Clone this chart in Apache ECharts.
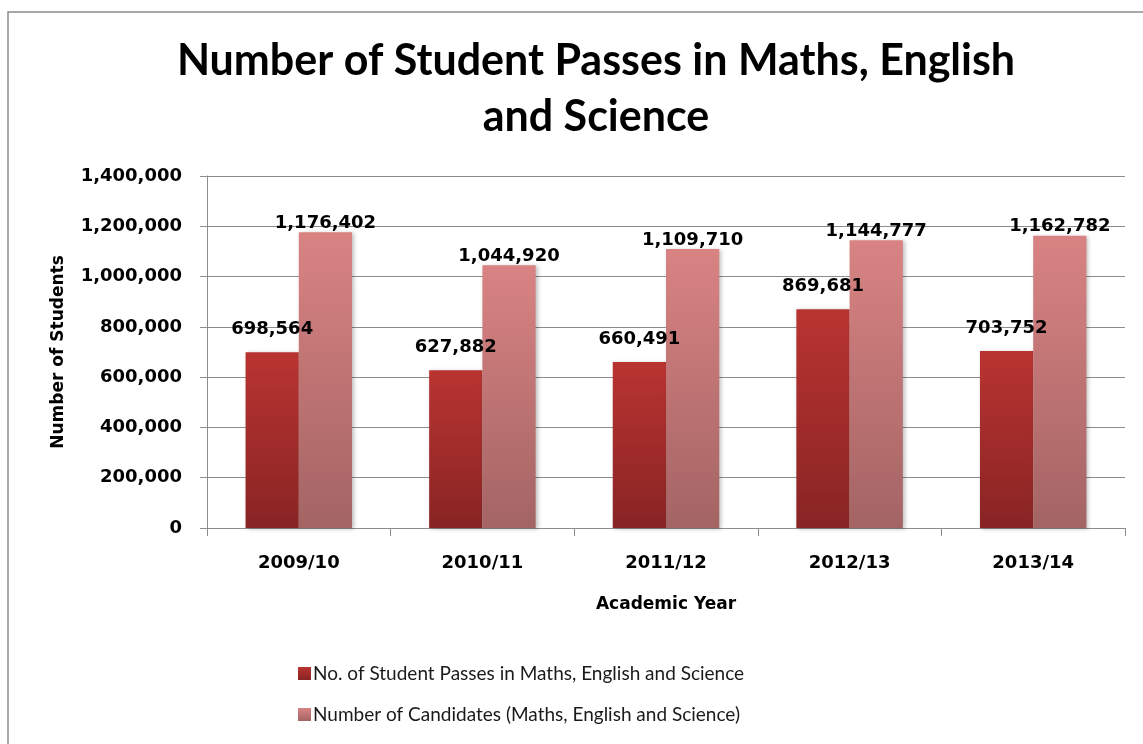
<!DOCTYPE html>
<html>
<head>
<meta charset="utf-8">
<title>Number of Student Passes</title>
<script src="https://cdn.jsdelivr.net/npm/echarts@6/dist/echarts.min.js"></script>
<style>
  html, body { margin: 0; padding: 0; background: #fff; }
  #chart { width: 1143px; height: 744px; }
</style>
</head>
<body>
<div id="chart"></div>
<script>
// chart data
const years = ['2009/10', '2010/11', '2011/12', '2012/13', '2013/14']
const passes = [698564, 627882, 660491, 869681, 703752]
const candidates = [1176402, 1044920, 1109710, 1144777, 1162782]
const yMin = 0
const yMax = 1400000
const yStep = 200000

const passesName = 'No. of Student Passes in Maths, English and Science'
const candidatesName = 'Number of Candidates (Maths, English and Science)'

const boldFont = 'DejaVu Sans'
const lineColor = '#8c8c8c'

function fmt(v) {
  return Number(v).toLocaleString('en-US')
}

function grad(top, bottom) {
  return new echarts.graphic.LinearGradient(0, 0, 0, 1, [
    { offset: 0, color: top },
    { offset: 1, color: bottom }
  ])
}

const chart = echarts.init(document.getElementById('chart'))

chart.setOption({
  animation: false,
  backgroundColor: '#fff',
  title: {
    text: 'Number of Student Passes in Maths, English\nand Science',
    left: 591,
    top: 28,
    textAlign: 'center',
    textStyle: {
      fontFamily: 'Lato',
      fontWeight: 'bold',
      fontSize: 43,
      lineHeight: 56,
      color: '#000'
    }
  },
  // chart area border
  graphic: [{
    type: 'rect',
    shape: { x: 8, y: 12, width: 1300, height: 900 },
    style: { fill: null, stroke: lineColor, lineWidth: 1.5 },
    silent: true
  }],
  legend: {
    orient: 'vertical',
    left: 293,
    top: 659,
    itemWidth: 13,
    itemHeight: 13,
    itemGap: 22,
    icon: 'rect',
    textStyle: {
      fontFamily: 'Lato',
      fontSize: 19,
      color: '#1a1a1a',
      padding: [0, 0, 0, -3]
    },
    data: [passesName, candidatesName]
  },
  grid: {
    left: 207,
    right: 18,
    top: 176,
    bottom: 216
  },
  xAxis: {
    type: 'category',
    data: years,
    name: 'Academic Year',
    nameLocation: 'middle',
    nameGap: 68,
    nameTextStyle: {
      fontFamily: boldFont,
      fontWeight: 'bold',
      fontSize: 17,
      color: '#000'
    },
    axisLine: { lineStyle: { color: lineColor, width: 1 } },
    axisTick: { show: true, length: 8, lineStyle: { color: lineColor } },
    axisLabel: {
      margin: 26,
      fontFamily: boldFont,
      fontWeight: 'bold',
      fontSize: 18,
      color: '#000'
    }
  },
  yAxis: {
    type: 'value',
    min: yMin,
    max: yMax,
    interval: yStep,
    name: 'Number of Students',
    nameLocation: 'middle',
    nameGap: 140,
    nameTextStyle: {
      fontFamily: boldFont,
      fontWeight: 'bold',
      fontSize: 17,
      color: '#000'
    },
    axisLine: { show: true, lineStyle: { color: lineColor, width: 1 } },
    axisTick: { show: true, length: 7, lineStyle: { color: lineColor } },
    splitLine: { lineStyle: { color: lineColor, width: 1 } },
    axisLabel: {
      margin: 25,
      fontFamily: boldFont,
      fontWeight: 'bold',
      fontSize: 18,
      color: '#000',
      formatter: fmt
    }
  },
  series: [{
    name: passesName,
    type: 'bar',
    data: passes,
    barGap: 0,
    barCategoryGap: '42%',
    itemStyle: {
      color: grad('#b93431', '#882424'),
      shadowBlur: 4,
      shadowOffsetX: 2,
      shadowOffsetY: 1,
      shadowColor: 'rgba(0,0,0,0.25)'
    },
    label: {
      show: true,
      position: 'top',
      distance: 14,
      fontFamily: boldFont,
      fontWeight: 'bold',
      fontSize: 18,
      color: '#000',
      formatter: p => fmt(p.value)
    }
  }, {
    name: candidatesName,
    type: 'bar',
    data: candidates,
    itemStyle: {
      color: grad('#d98383', '#a46464'),
      shadowBlur: 4,
      shadowOffsetX: 2,
      shadowOffsetY: 1,
      shadowColor: 'rgba(0,0,0,0.25)'
    },
    label: {
      show: true,
      position: 'top',
      distance: 0,
      fontFamily: boldFont,
      fontWeight: 'bold',
      fontSize: 18,
      color: '#000',
      formatter: p => fmt(p.value)
    }
  }]
})
</script>
</body>
</html>
